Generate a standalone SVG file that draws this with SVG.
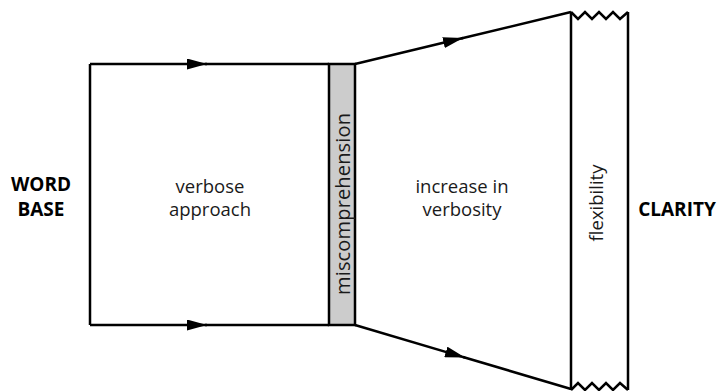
<svg xmlns="http://www.w3.org/2000/svg" width="720" height="391" viewBox="0 0 720 391">
  <defs>
    <marker id="arrow" markerUnits="userSpaceOnUse" markerWidth="20" markerHeight="11" refX="20" refY="5.5" orient="auto">
      <path d="M0,0 L20,5.5 L0,11 z" fill="#000"/>
    </marker>
    <style>
      .ln { fill: none; stroke: #000; stroke-width: 2.5; stroke-linejoin: miter; }
      .t { font-family: "Open Sans", "Noto Sans", "Liberation Sans", sans-serif; font-size: 18.5px; fill: #1a1a1a; text-anchor: middle; }
      .b { font-weight: bold; fill: #000; font-size: 19px; }
    </style>
  </defs>
  <rect width="720" height="391" fill="#fff"/>

  <g id="connectors">
    <path class="ln" d="M90,64 L207,64" marker-end="url(#arrow)"/>
    <path class="ln" d="M205,64 L329,64"/>
    <path class="ln" d="M90,325 L207,325" marker-end="url(#arrow)"/>
    <path class="ln" d="M205,325 L329,325"/>
    <path class="ln" d="M355,64 L463,38" marker-end="url(#arrow)"/>
    <path class="ln" d="M461,38.5 L571,12"/>
    <path class="ln" d="M355,325 L465,357.6" marker-end="url(#arrow)"/>
    <path class="ln" d="M463,357 L571,389"/>
  </g>

  <g id="word-base">
    <text class="t b" x="41" y="191">WORD</text>
    <text class="t b" x="41" y="216">BASE</text>
  </g>

  <g id="verbose-approach">
    <path class="ln" d="M90,64 L90,325"/>
    <text class="t" x="210" y="193">verbose</text>
    <text class="t" x="210" y="216">approach</text>
  </g>

  <g id="miscomprehension">
    <rect x="329" y="64" width="26" height="261" fill="#cccccc" stroke="#000" stroke-width="2.5"/>
    <text class="t" transform="translate(349.5,204) rotate(-90)" style="font-size:20px" textLength="182" lengthAdjust="spacing">miscomprehension</text>
  </g>

  <g id="increase-in-verbosity">
    <text class="t" x="462" y="193">increase in</text>
    <text class="t" x="462" y="216">verbosity</text>
  </g>

  <g id="flexibility">
    <path class="ln" d="M571,12 L571,390"/>
    <path class="ln" d="M628,12 L628,390"/>
    <path class="ln" d="M571,12 L578,19 L585,12 L592,19 L599,12 L606,19 L613,12 L620,19 L628,12"/>
    <path class="ln" d="M571,390 L578,383 L585,390 L592,383 L599,390 L606,383 L613,390 L620,383 L628,390"/>
    <text class="t" transform="translate(603,203) rotate(-90)" style="font-size:18.5px">flexibility</text>
  </g>

  <g id="clarity">
    <text class="t b" x="677" y="216">CLARITY</text>
  </g>
</svg>
